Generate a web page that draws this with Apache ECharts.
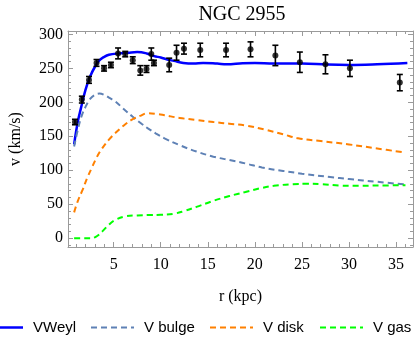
<!DOCTYPE html>
<html><head><meta charset="utf-8">
<script src="https://cdn.jsdelivr.net/npm/echarts@6/dist/echarts.min.js"></script>
<style>html,body{margin:0;padding:0;background:#fff}#c{width:415px;height:338px}</style>
</head><body><div id="c"></div>
<script>
// Observed rotation curve
var rObs = [0.89,1.62,2.38,3.18,3.98,4.71,5.47,6.23,7.03,7.83,8.49,9.0,9.28,10.9,11.68,12.47,14.2,16.94,19.54,22.18,24.78,27.5,30.1,35.4];
var vObs = [171,204,233,258,250,255,272,271,262,247,249,271,258,255,273,279,277,277,278,269,259,256,250,229];
var eObs = [4,5,5,5,4,4,8,4,5,7,5,9,4,10,11,8,10,10,11,15,15,14,12,12];
// Model curves
var rWeyl = [0.8,1.2,1.5,2.0,2.5,3.0,3.5,4.0,4.5,5.5,6.5,7.5,8.5,9.3,10,10.7,11.4,12.4,13.5,14.5,16,17,18.7,20,22,25,27.7,30,33,36.2];
var vWeyl = [138,172,190,218,238,252,262,267,270,272,273,274,272,268,266,263,261,258,257,258,257,256,257.5,258,257,257,255.5,255,256,258];
var rBulge = [0.8,1.2,1.6,2,2.5,3,3.5,4,4.5,5.2,6,7,8,8.6,9.5,10.4,12,13.8,15.6,17.3,19,20.75,23,25,28,30,33,36];
var vBulge = [135,160,180,193,205,211,213,211,207,201,191,179,168,162,154,147,137,127.5,120,115,110,104,99,95,90,87,83,79];
var rDisk = [0.8,1.2,1.7,2.2,2.73,3.2,3.77,4.5,5.2,6,6.9,7.8,8.6,9.5,10.4,12,13.8,15.6,17.3,19,21,23,24.6,27,30,33,36];
var vDisk = [38,55,71,89,105,119,132,145,155,165,174,180,184,183,181,177,174,171,168.5,166,160,153,147,143,138,132,126];
var rGas = [0.8,1.5,2.5,3.1,3.8,4.5,5.2,6.2,7.5,8.6,10,11.4,12.5,13.8,15.6,17.3,19,20.75,22,24,25.5,27,29,31,33,36];
var vGas = [0,0,0,2,10,20,27,32,33.5,34,34.5,36,40,46,55,62,68,74,77,79.5,80,79.5,77.5,77,77.5,78];
var xMajor = [5,10,15,20,25,30,35];
var yMajor = [0,50,100,150,200,250,300];
var names = ['VWeyl','V bulge','V disk','V gas'];
var colors = ['#0000ff','#5e81b5','#ff8000','#00ff00'];

function zip(a,b){return a.map(function(v,i){return [v,b[i]];});}
var xMinor=[], yMinor=[];
for (var i=1;i<=36;i++) if (i%5) xMinor.push(i);
for (var j=-10;j<=300;j+=10) if (j%50) yMinor.push(j);

var XMIN=0.15, XMAX=36.8, YMIN=-13, YMAX=305;
var frame='#9a9a9a';
function xa(pos, ticks, len, labels, line){
  return {type:'value', position:pos, min:XMIN, max:XMAX, splitLine:{show:false},
    axisLine:{show:line, onZero:false, lineStyle:{color:frame,width:1}},
    axisTick:{show:true, inside:true, length:len, customValues:ticks, lineStyle:{color:frame}},
    axisLabel:{show:labels, customValues:ticks, color:'#000', fontFamily:'Liberation Serif', fontSize:16, margin:10}};
}
function ya(pos, ticks, len, labels, line){
  return {type:'value', position:pos, min:YMIN, max:YMAX, splitLine:{show:false},
    axisLine:{show:line, onZero:false, lineStyle:{color:frame,width:1}},
    axisTick:{show:true, inside:true, length:len, customValues:ticks, lineStyle:{color:frame}},
    axisLabel:{show:labels, customValues:ticks, color:'#000', fontFamily:'Liberation Serif', fontSize:16, margin:5}};
}
var xAxes=[xa('bottom',xMajor,5,true,true), xa('bottom',xMinor,3,false,false), xa('top',xMajor,5,false,true), xa('top',xMinor,3,false,false)];
xAxes[0].name='r (kpc)'; xAxes[0].nameLocation='middle'; xAxes[0].nameGap=42;
xAxes[0].nameTextStyle={fontFamily:'Liberation Serif',fontSize:16,color:'#000'};
var yAxes=[ya('left',yMajor,5,true,true), ya('left',yMinor,3,false,false), ya('right',yMajor,5,false,true), ya('right',yMinor,3,false,false)];
yAxes[0].name='v (km/s)'; yAxes[0].nameLocation='middle'; yAxes[0].nameGap=44;
yAxes[0].nameTextStyle={fontFamily:'Liberation Serif',fontSize:16,color:'#000'};

function lineSeries(k, r, v){
  var solid = k===0;
  return {name:names[k], type:'line', data:zip(r,v), smooth:0.4, symbol:'none', xAxisIndex:0, yAxisIndex:0,
    lineStyle:{color:colors[k], width:solid?2.5:2, type:solid?'solid':[6,4]}, itemStyle:{color:colors[k]}, z:2};
}
var errData = rObs.map(function(r,i){return [r, vObs[i]-eObs[i], vObs[i]+eObs[i]];});

// legend drawn as graphic (key line + label)
var legX = [-20, 91, 210, 320];
var legend = [];
names.forEach(function(n,k){
  legend.push({type:'line', shape:{x1:legX[k], y1:327.5, x2:legX[k]+43, y2:327.5},
    style:{stroke:colors[k], lineWidth:k===0?2.5:2, lineDash:k===0?null:[6,4]}});
  legend.push({type:'text', x:legX[k]+53, y:327.5, style:{text:n, font:'15px "Liberation Sans"', fill:'#000', verticalAlign:'middle'}});
});

var chart = echarts.init(document.getElementById('c'), null, {renderer:'canvas'});
chart.setOption({
  animation:false,
  title:{text:'NGC 2955', left:237, textAlign:'center', top:0, textStyle:{fontFamily:'Liberation Serif', fontSize:20, fontWeight:'normal', color:'#000'}},
  grid:{left:62, right:2, top:31, bottom:91, containLabel:false},
  xAxis:xAxes, yAxis:yAxes,
  graphic:legend,
  series:[
    lineSeries(0, rWeyl, vWeyl),
    lineSeries(1, rBulge, vBulge),
    lineSeries(2, rDisk, vDisk),
    lineSeries(3, rGas, vGas),
    {type:'custom', xAxisIndex:0, yAxisIndex:0, data:errData, z:5,
      renderItem:function(params, api){
        var x=api.value(0), p1=api.coord([x,api.value(1)]), p2=api.coord([x,api.value(2)]);
        var w=3, st={stroke:'#000', lineWidth:1.6};
        return {type:'group', children:[
          {type:'line', shape:{x1:p1[0],y1:p1[1],x2:p2[0],y2:p2[1]}, style:st},
          {type:'line', shape:{x1:p1[0]-w,y1:p1[1],x2:p1[0]+w,y2:p1[1]}, style:st},
          {type:'line', shape:{x1:p2[0]-w,y1:p2[1],x2:p2[0]+w,y2:p2[1]}, style:st}
        ]};
      }},
    {type:'scatter', xAxisIndex:0, yAxisIndex:0, data:zip(rObs,vObs), symbol:'circle', symbolSize:6, itemStyle:{color:'#000'}, z:6}
  ]
});
</script></body></html>
